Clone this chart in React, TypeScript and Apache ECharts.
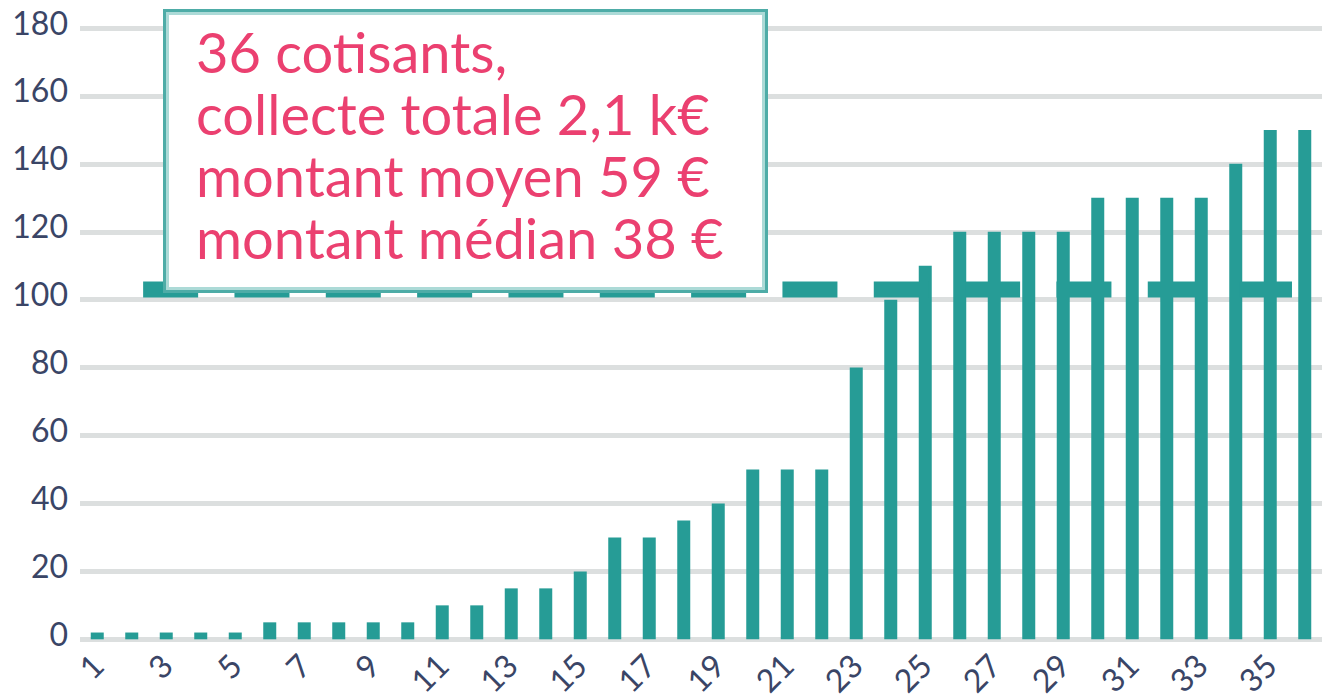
import React, { useEffect, useRef } from "react";
import * as echarts from "echarts";

const categories = [
  "1", "2", "3", "4", "5", "6", "7", "8", "9", "10", "11", "12",
  "13", "14", "15", "16", "17", "18", "19", "20", "21", "22", "23", "24",
  "25", "26", "27", "28", "29", "30", "31", "32", "33", "34", "35", "36",
];
const amounts = [
  2, 2, 2, 2, 2, 5, 5, 5, 5, 5, 10, 10,
  15, 15, 20, 30, 30, 35, 40, 50, 50, 50, 80, 100,
  110, 120, 120, 120, 120, 130, 130, 130, 130, 140, 150, 150,
];
const refLineValue = 103;
const refLineFrom = 1.83;
const refLineTo = 35.13;
const yTicks = { min: 0, max: 180, interval: 20 };
const noteLines = [
  "36 cotisants,",
  "collecte totale 2,1 k€",
  "montant moyen 59 €",
  "montant médian 38 €",
];

const BAR = "#269C96";
const LABEL = "#3a4566";
const FONT = "Lato, 'Noto Sans', sans-serif";

export default function App() {
  const ref = useRef<HTMLDivElement>(null);
  useEffect(() => {
    document.body.style.margin = "0";
    const chart = echarts.init(ref.current!, null, { renderer: "svg" });
    chart.setOption({
      animation: false,
      grid: { left: 80, right: -2, top: 28, bottom: 56, containLabel: false },
      xAxis: [
        {
          type: "category",
          data: categories,
          axisLine: { show: false },
          axisTick: { show: false },
          axisLabel: {
            interval: 1,
            rotate: 45,
            margin: 20,
            fontSize: 32,
            fontFamily: FONT,
            color: LABEL,
          },
        },
        {
          type: "value",
          min: 0,
          max: 36,
          show: false,
          position: "top",
        },
      ],
      yAxis: {
        type: "value",
        min: yTicks.min,
        max: yTicks.max,
        interval: yTicks.interval,
        axisLine: { show: false },
        axisTick: { show: false },
        axisLabel: {
          margin: 12,
          fontSize: 32,
          fontFamily: FONT,
          color: LABEL,
          verticalAlign: "bottom",
          lineHeight: 12,
        },
        splitLine: { lineStyle: { color: "#dcdfdf", width: 5 } },
      },
      series: [
        {
          type: "bar",
          data: amounts,
          barWidth: 13,
          itemStyle: { color: BAR },
          z: 2,
        },
        {
          type: "line",
          xAxisIndex: 1,
          data: [
            [refLineFrom, refLineValue],
            [refLineTo, refLineValue],
          ],
          symbol: "none",
          lineStyle: { color: BAR, width: 16, type: [55, 36.33], cap: "butt" },
          z: 3,
        },
      ],
      graphic: [
        {
          type: "rect",
          z: 100,
          shape: { x: 164.5, y: 10.5, width: 602, height: 281 },
          style: { fill: "#ffffff", stroke: "#4eaca7", lineWidth: 3 },
        },
        {
          type: "rect",
          z: 101,
          shape: { x: 167.5, y: 13.5, width: 596, height: 275 },
          style: { fill: "none", stroke: "#acdad7", lineWidth: 3 },
        },
        {
          type: "text",
          z: 102,
          x: 196,
          y: 20,
          style: {
            text: noteLines.join("\n"),
            font: `56px ${FONT}`,
            fill: "#EB4070",
            lineHeight: 62,
            verticalAlign: "top",
            align: "left",
          },
        },
      ],
    });
    return () => chart.dispose();
  }, []);
  return <div ref={ref} style={{ width: 1322, height: 699 }} />;
}
